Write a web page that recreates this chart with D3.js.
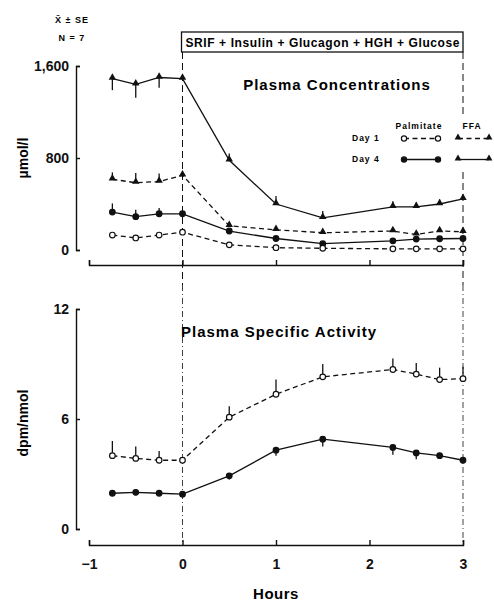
<!DOCTYPE html>
<html>
<head>
<meta charset="utf-8">
<script src="https://cdn.jsdelivr.net/npm/d3@7"></script>
<style>
  body { margin: 0; background: #fff; }
  svg { font-family: 'Liberation Sans', Arial, sans-serif; font-weight: bold; }
  .axis text { font-size: 14px; font-weight: bold; fill: #111; }
  .axis path, .axis line { stroke: #111; stroke-width: 1.4; }
</style>
</head>
<body>
<svg width="494" height="601"></svg>
<script>
const hours = [-0.75, -0.5, -0.25, 0, 0.5, 1, 1.5, 2.25, 2.5, 2.75, 3]

// plasma concentrations, umol/l
const ffaDay4 = [1490, 1440, 1500, 1490, 780, 400, 280, 375, 375, 400, 445]
const ffaDay4Se = [-100, -115, -90, 0, 60, 70, 60, 50, 35, 40, 30]
const ffaDay1 = [615, 585, 595, 650, 210, 175, 150, 165, 135, 165, 158]
const ffaDay1Se = [60, 85, 70, 0, 0, 0, 0, 20, 0, 20, 0]
const palDay4 = [330, 290, 315, 315, 165, 100, 55, 80, 95, 98, 100]
const palDay4Se = [75, 60, 50, 0, 0, 0, 0, 0, 0, 0, 0]
const palDay1 = [130, 105, 130, 155, 45, 20, 15, 10, 10, 10, 10]
const palDay1Se = [0, 0, 0, 0, 0, 0, 0, 0, 0, 0, 0]

// plasma specific activity, dpm/nmol
const saDay1 = [4.0, 3.85, 3.75, 3.75, 6.1, 7.35, 8.3, 8.7, 8.45, 8.15, 8.2]
const saDay1Se = [0.8, 0.65, 0.5, 0, 0.6, 0.8, 0.7, 0.6, 0.6, 0.65, 0.65]
const saDay4 = [1.95, 2.0, 1.95, 1.9, 2.9, 4.3, 4.9, 4.45, 4.15, 4.0, 3.75]
const saDay4Se = [-0.1, -0.1, -0.1, 0, -0.2, -0.3, -0.4, -0.4, -0.35, 0, 0]

const xTicks = [-1, 0, 1, 2, 3]
const concTicks = [0, 800, 1600]
const saTicks = [0, 6, 12]

const svg = d3.select('svg')

const x = d3.scaleLinear().domain([-1, 3]).range([89, 463])
const yConc = d3.scaleLinear().domain([0, 1600]).range([250, 66])
const ySa = d3.scaleLinear().domain([0, 12]).range([529, 309])

const axisX = 76
const concBase = 265
const saBase = 545

// axes
const xAxisUpper = d3.axisBottom(x).tickValues(xTicks).tickSize(-5).tickSizeOuter(-5).tickFormat('')
svg.append('g').attr('class', 'axis')
  .attr('transform', `translate(0, ${concBase})`).call(xAxisUpper)

const xAxisLower = d3.axisBottom(x).tickValues(xTicks).tickSize(-5).tickSizeOuter(-5)
  .tickPadding(14).tickFormat(d => d < 0 ? '\u2212' + Math.abs(d) : d)
svg.append('g').attr('class', 'axis')
  .attr('transform', `translate(0, ${saBase})`).call(xAxisLower)

const yAxisConc = d3.axisLeft(yConc).tickValues(concTicks).tickSize(-4).tickSizeOuter(-4)
  .tickPadding(7).tickFormat(d3.format(','))
svg.append('g').attr('class', 'axis')
  .attr('transform', `translate(${axisX}, 0)`).call(yAxisConc)

const yAxisSa = d3.axisLeft(ySa).tickValues(saTicks).tickSize(-4).tickSizeOuter(-4).tickPadding(7)
svg.append('g').attr('class', 'axis')
  .attr('transform', `translate(${axisX}, 0)`).call(yAxisSa)

svg.selectAll('.axis .domain').attr('fill', 'none')

// axis titles
svg.append('text').attr('transform', `translate(28, ${yConc(800)}) rotate(-90)`)
  .attr('text-anchor', 'middle').style('font-size', '14px').text('\u00b5mol/l')
svg.append('text').attr('transform', `translate(28, ${ySa(6) + 4}) rotate(-90)`)
  .attr('text-anchor', 'middle').style('font-size', '14px').text('dpm/nmol')
svg.append('text').attr('x', x(1)).attr('y', 599)
  .attr('text-anchor', 'middle').style('font-size', '15px').style('letter-spacing', '0.5px').text('Hours')

svg.append('text').attr('x', 72).attr('y', 23).attr('text-anchor', 'middle')
  .style('font-size', '9px').style('letter-spacing', '1px').text('X\u0304 \u00b1 SE')
svg.append('text').attr('x', 72).attr('y', 41).attr('text-anchor', 'middle')
  .style('font-size', '9px').style('letter-spacing', '1px').text('N = 7')

// infusion box
svg.append('rect').attr('x', x(0) - 1).attr('y', 32).attr('width', x(3) - x(0) + 1).attr('height', 20)
  .attr('fill', 'none').attr('stroke', '#111').attr('stroke-width', 1.3)
svg.append('text').attr('x', (x(0) + x(3)) / 2).attr('y', 46.5).attr('text-anchor', 'middle')
  .style('font-size', '12px').style('letter-spacing', '0.6px').text('SRIF + Insulin + Glucagon + HGH + Glucose')

// infusion start / end lines
svg.append('line').attr('x1', x(0)).attr('x2', x(0)).attr('y1', 52).attr('y2', concBase + 20)
  .attr('stroke', '#111').attr('stroke-width', 1).attr('stroke-dasharray', '7,4')
svg.append('line').attr('x1', x(0)).attr('x2', x(0)).attr('y1', concBase + 20).attr('y2', saBase)
  .attr('stroke', '#111').attr('stroke-width', 0.8).attr('stroke-dasharray', '6,3,1,3')
svg.append('line').attr('x1', x(3)).attr('x2', x(3)).attr('y1', 52).attr('y2', 115)
  .attr('stroke', '#111').attr('stroke-width', 1).attr('stroke-dasharray', '7,4')
svg.append('line').attr('x1', x(3)).attr('x2', x(3)).attr('y1', 172).attr('y2', concBase + 20)
  .attr('stroke', '#111').attr('stroke-width', 1).attr('stroke-dasharray', '7,4')
svg.append('line').attr('x1', x(3)).attr('x2', x(3)).attr('y1', concBase + 20).attr('y2', saBase)
  .attr('stroke', '#111').attr('stroke-width', 0.8).attr('stroke-dasharray', '6,3,1,3')

// panel titles
svg.append('text').attr('x', 337).attr('y', 90).attr('text-anchor', 'middle')
  .style('font-size', '15px').style('letter-spacing', '1px').text('Plasma Concentrations')
svg.append('text').attr('x', 279).attr('y', 337).attr('text-anchor', 'middle')
  .style('font-size', '15px').style('letter-spacing', '1px').text('Plasma Specific Activity')

const tri = d3.symbol().type(d3.symbolTriangle).size(24)

function series(y, values, se, opts) {
  const pts = hours.map((h, i) => ({ h, v: values[i], se: se[i] }))
  const g = svg.append('g')
  g.append('path').datum(pts)
    .attr('d', d3.line().x(d => x(d.h)).y(d => y(d.v)))
    .attr('fill', 'none').attr('stroke', '#111').attr('stroke-width', 1.3)
    .attr('stroke-dasharray', opts.dashed ? '5,3.5' : null)
  g.selectAll('.err').data(pts.filter(d => d.se !== 0)).enter().append('line')
    .attr('x1', d => x(d.h)).attr('x2', d => x(d.h))
    .attr('y1', d => y(d.v)).attr('y2', d => y(d.v + d.se))
    .attr('stroke', '#111').attr('stroke-width', 1.3)
  if (opts.shape === 'tri') {
    g.selectAll('.m').data(pts).enter().append('path')
      .attr('d', tri).attr('transform', d => `translate(${x(d.h)}, ${y(d.v) - 1})`)
      .attr('fill', '#111')
  } else {
    g.selectAll('.m').data(pts).enter().append('circle')
      .attr('cx', d => x(d.h)).attr('cy', d => y(d.v)).attr('r', 2.8)
      .attr('fill', opts.open ? '#fff' : '#111').attr('stroke', '#111').attr('stroke-width', 1.2)
  }
}

series(yConc, ffaDay4, ffaDay4Se, { shape: 'tri' })
series(yConc, ffaDay1, ffaDay1Se, { shape: 'tri', dashed: true })
series(yConc, palDay4, palDay4Se, { shape: 'circle' })
series(yConc, palDay1, palDay1Se, { shape: 'circle', open: true, dashed: true })
series(ySa, saDay1, saDay1Se, { shape: 'circle', open: true, dashed: true })
series(ySa, saDay4, saDay4Se, { shape: 'circle' })

// legend
const leg = svg.append('g').style('font-size', '8.5px').style('letter-spacing', '1px')
leg.append('text').attr('x', 419).attr('y', 129).attr('text-anchor', 'middle').text('Palmitate')
leg.append('text').attr('x', 472).attr('y', 129).attr('text-anchor', 'middle').text('FFA')
leg.append('text').attr('x', 352).attr('y', 141).text('Day 1')
leg.append('text').attr('x', 352).attr('y', 162).text('Day 4')
const legRows = [{ y: 138.5, dashed: true, open: true }, { y: 159.5, dashed: false, open: false }]
legRows.forEach(r => {
  leg.append('line').attr('x1', 404).attr('x2', 438).attr('y1', r.y).attr('y2', r.y)
    .attr('stroke', '#111').attr('stroke-width', 1.3).attr('stroke-dasharray', r.dashed ? '5,3.5' : null)
  ;[404, 438].forEach(cx => leg.append('circle').attr('cx', cx).attr('cy', r.y).attr('r', 2.6)
    .attr('fill', r.open ? '#fff' : '#111').attr('stroke', '#111').attr('stroke-width', 1.2))
  leg.append('line').attr('x1', 458).attr('x2', 489).attr('y1', r.y).attr('y2', r.y)
    .attr('stroke', '#111').attr('stroke-width', 1.3).attr('stroke-dasharray', r.dashed ? '5,3.5' : null)
  ;[458, 489].forEach(cx => leg.append('path').attr('d', d3.symbol().type(d3.symbolTriangle).size(20))
    .attr('transform', `translate(${cx}, ${r.y - 1})`).attr('fill', '#111'))
})
</script>
</body>
</html>
